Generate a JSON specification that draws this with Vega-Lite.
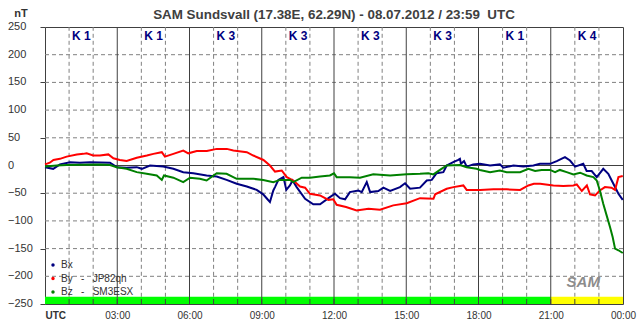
{
  "$schema": "https://vega.github.io/schema/vega-lite/v6.json",
  "width": 578,
  "height": 277,
  "autosize": {"type": "none"},
  "padding": {"left": 45, "top": 27, "right": 20, "bottom": 27},
  "background": "white",
  "title": {"text": "SAM Sundsvall (17.38E, 62.29N) - 08.07.2012 / 23:59\u00a0\u00a0UTC", "anchor": "middle", "frame": "group", "font": "Liberation Sans", "fontSize": 13.4, "fontWeight": "bold", "color": "#404040", "baseline": "alphabetic", "offset": -16, "dy": 8},
  "config": {
    "view": {"stroke": "#404040", "strokeWidth": 1},
    "font": "Liberation Sans",
    "axisY": {"labels": false, "tickSize": 5, "tickColor": "#404040", "domain": false, "grid": false, "title": null},
    "axisX": {"labelOverlap": false, "labelBound": false, "labelFlush": false, "labelPadding": 6, "labelFontSize": 10, "labelColor": "#333333", "ticks": false, "domain": false, "grid": false, "title": null}
  },
  "datasets": {
    "hours": [{"t":1},{"t":2},{"t":4},{"t":5},{"t":7},{"t":8},{"t":10},{"t":11},{"t":13},{"t":14},{"t":16},{"t":17},{"t":19},{"t":20},{"t":22},{"t":23}],
    "major": [{"t":3},{"t":6},{"t":9},{"t":12},{"t":15},{"t":18},{"t":21}],
    "ticks": [{"t":1},{"t":2},{"t":3},{"t":4},{"t":5},{"t":6},{"t":7},{"t":8},{"t":9},{"t":10},{"t":11},{"t":12},{"t":13},{"t":14},{"t":15},{"t":16},{"t":17},{"t":18},{"t":19},{"t":20},{"t":21},{"t":22},{"t":23}],
    "levels": [{"v":-200},{"v":-150},{"v":-100},{"v":-50},{"v":50},{"v":100},{"v":150},{"v":200}],
    "ylabels": [{"v":-250},{"v":-200},{"v":-150},{"v":-100},{"v":-50},{"v":0},{"v":50},{"v":100},{"v":150},{"v":200},{"v":250}],
    "kindex": [{"t":0,"t2":3,"k":"K 1","kv":1},{"t":3,"t2":6,"k":"K 1","kv":1},{"t":6,"t2":9,"k":"K 3","kv":3},{"t":9,"t2":12,"k":"K 3","kv":3},{"t":12,"t2":15,"k":"K 3","kv":3},{"t":15,"t2":18,"k":"K 3","kv":3},{"t":18,"t2":21,"k":"K 1","kv":1},{"t":21,"t2":24,"k":"K 4","kv":4}],
    "mag": [
      {"c":"Bx","t":0,"v":-3},{"c":"Bx","t":0.34,"v":-6},{"c":"Bx","t":0.62,"v":2},{"c":"Bx","t":1.04,"v":6},{"c":"Bx","t":1.45,"v":5},{"c":"Bx","t":1.87,"v":6},{"c":"Bx","t":2.7,"v":5},{"c":"Bx","t":2.98,"v":-3},{"c":"Bx","t":3.39,"v":-4},{"c":"Bx","t":3.81,"v":-3},{"c":"Bx","t":4.02,"v":-6},{"c":"Bx","t":4.36,"v":0},{"c":"Bx","t":4.91,"v":-2},{"c":"Bx","t":5.33,"v":-6},{"c":"Bx","t":5.74,"v":-12},{"c":"Bx","t":6.16,"v":-14},{"c":"Bx","t":6.71,"v":-18},{"c":"Bx","t":7.13,"v":-20},{"c":"Bx","t":7.54,"v":-26},{"c":"Bx","t":7.96,"v":-33},{"c":"Bx","t":8.38,"v":-38},{"c":"Bx","t":8.79,"v":-44},{"c":"Bx","t":9.06,"v":-52},{"c":"Bx","t":9.22,"v":-60},{"c":"Bx","t":9.34,"v":-66},{"c":"Bx","t":9.48,"v":-45},{"c":"Bx","t":9.55,"v":-39},{"c":"Bx","t":9.69,"v":-26},{"c":"Bx","t":9.9,"v":-21},{"c":"Bx","t":10.02,"v":-44},{"c":"Bx","t":10.17,"v":-36},{"c":"Bx","t":10.28,"v":-27},{"c":"Bx","t":10.45,"v":-39},{"c":"Bx","t":10.8,"v":-60},{"c":"Bx","t":11.14,"v":-70},{"c":"Bx","t":11.42,"v":-70},{"c":"Bx","t":11.83,"v":-57},{"c":"Bx","t":12.04,"v":-51},{"c":"Bx","t":12.25,"v":-59},{"c":"Bx","t":12.46,"v":-61},{"c":"Bx","t":12.66,"v":-48},{"c":"Bx","t":13.01,"v":-45},{"c":"Bx","t":13.15,"v":-48},{"c":"Bx","t":13.36,"v":-30},{"c":"Bx","t":13.5,"v":-48},{"c":"Bx","t":13.84,"v":-46},{"c":"Bx","t":14.05,"v":-40},{"c":"Bx","t":14.33,"v":-46},{"c":"Bx","t":14.74,"v":-39},{"c":"Bx","t":14.95,"v":-32},{"c":"Bx","t":15.16,"v":-42},{"c":"Bx","t":15.57,"v":-40},{"c":"Bx","t":15.85,"v":-27},{"c":"Bx","t":16.06,"v":-26},{"c":"Bx","t":16.26,"v":-14},{"c":"Bx","t":16.54,"v":-12},{"c":"Bx","t":16.68,"v":0},{"c":"Bx","t":16.95,"v":6},{"c":"Bx","t":17.16,"v":10},{"c":"Bx","t":17.23,"v":12},{"c":"Bx","t":17.27,"v":3},{"c":"Bx","t":17.4,"v":8},{"c":"Bx","t":17.51,"v":-2},{"c":"Bx","t":17.78,"v":2},{"c":"Bx","t":18.06,"v":3},{"c":"Bx","t":18.48,"v":0},{"c":"Bx","t":18.89,"v":2},{"c":"Bx","t":19.03,"v":-4},{"c":"Bx","t":19.45,"v":0},{"c":"Bx","t":19.86,"v":-2},{"c":"Bx","t":20.28,"v":0},{"c":"Bx","t":20.55,"v":3},{"c":"Bx","t":20.97,"v":3},{"c":"Bx","t":21.25,"v":8},{"c":"Bx","t":21.59,"v":15},{"c":"Bx","t":21.8,"v":9},{"c":"Bx","t":22.01,"v":-2},{"c":"Bx","t":22.35,"v":3},{"c":"Bx","t":22.49,"v":-10},{"c":"Bx","t":22.7,"v":-10},{"c":"Bx","t":22.91,"v":-21},{"c":"Bx","t":23.18,"v":-6},{"c":"Bx","t":23.39,"v":-15},{"c":"Bx","t":23.6,"v":-33},{"c":"Bx","t":23.81,"v":-51},{"c":"Bx","t":23.99,"v":-62},
      {"c":"By","t":0,"v":2},{"c":"By","t":0.2,"v":5},{"c":"By","t":0.35,"v":10},{"c":"By","t":0.62,"v":12},{"c":"By","t":0.9,"v":16},{"c":"By","t":1.32,"v":20},{"c":"By","t":1.59,"v":21},{"c":"By","t":1.73,"v":22},{"c":"By","t":2.0,"v":18},{"c":"By","t":2.28,"v":18},{"c":"By","t":2.63,"v":20},{"c":"By","t":2.84,"v":13},{"c":"By","t":3.11,"v":10},{"c":"By","t":3.39,"v":8},{"c":"By","t":3.81,"v":14},{"c":"By","t":4.23,"v":18},{"c":"By","t":4.5,"v":21},{"c":"By","t":4.85,"v":24},{"c":"By","t":4.98,"v":16},{"c":"By","t":5.33,"v":21},{"c":"By","t":5.74,"v":27},{"c":"By","t":5.95,"v":22},{"c":"By","t":6.3,"v":26},{"c":"By","t":6.72,"v":26},{"c":"By","t":7.13,"v":30},{"c":"By","t":7.55,"v":30},{"c":"By","t":7.82,"v":27},{"c":"By","t":8.38,"v":24},{"c":"By","t":8.65,"v":18},{"c":"By","t":9.07,"v":10},{"c":"By","t":9.34,"v":0},{"c":"By","t":9.55,"v":-11},{"c":"By","t":9.83,"v":-9},{"c":"By","t":10.04,"v":-21},{"c":"By","t":10.31,"v":-27},{"c":"By","t":10.59,"v":-38},{"c":"By","t":10.8,"v":-40},{"c":"By","t":11.0,"v":-51},{"c":"By","t":11.42,"v":-54},{"c":"By","t":11.77,"v":-62},{"c":"By","t":11.97,"v":-61},{"c":"By","t":12.11,"v":-71},{"c":"By","t":12.5,"v":-75},{"c":"By","t":12.94,"v":-81},{"c":"By","t":13.43,"v":-78},{"c":"By","t":13.91,"v":-80},{"c":"By","t":14.46,"v":-72},{"c":"By","t":15.02,"v":-68},{"c":"By","t":15.57,"v":-59},{"c":"By","t":16.13,"v":-60},{"c":"By","t":16.2,"v":-52},{"c":"By","t":16.68,"v":-42},{"c":"By","t":16.96,"v":-39},{"c":"By","t":17.37,"v":-36},{"c":"By","t":17.51,"v":-44},{"c":"By","t":18.07,"v":-44},{"c":"By","t":18.62,"v":-43},{"c":"By","t":19.17,"v":-43},{"c":"By","t":19.73,"v":-44},{"c":"By","t":20.07,"v":-36},{"c":"By","t":20.3,"v":-33},{"c":"By","t":20.56,"v":-33},{"c":"By","t":21.11,"v":-36},{"c":"By","t":21.52,"v":-37},{"c":"By","t":21.94,"v":-36},{"c":"By","t":22.08,"v":-34},{"c":"By","t":22.29,"v":-46},{"c":"By","t":22.5,"v":-36},{"c":"By","t":22.63,"v":-52},{"c":"By","t":22.84,"v":-54},{"c":"By","t":23.04,"v":-45},{"c":"By","t":23.25,"v":-39},{"c":"By","t":23.52,"v":-40},{"c":"By","t":23.67,"v":-44},{"c":"By","t":23.81,"v":-21},{"c":"By","t":23.99,"v":-19},
      {"c":"Bz","t":0,"v":-2},{"c":"Bz","t":0.49,"v":0},{"c":"Bz","t":0.9,"v":1},{"c":"Bz","t":2.28,"v":2},{"c":"Bz","t":2.7,"v":1},{"c":"Bz","t":2.98,"v":-3},{"c":"Bz","t":3.39,"v":-6},{"c":"Bz","t":3.81,"v":-12},{"c":"Bz","t":4.22,"v":-15},{"c":"Bz","t":4.64,"v":-18},{"c":"Bz","t":4.85,"v":-26},{"c":"Bz","t":4.94,"v":-18},{"c":"Bz","t":5.33,"v":-22},{"c":"Bz","t":5.74,"v":-30},{"c":"Bz","t":6.02,"v":-22},{"c":"Bz","t":6.43,"v":-24},{"c":"Bz","t":6.71,"v":-27},{"c":"Bz","t":7.13,"v":-14},{"c":"Bz","t":7.54,"v":-15},{"c":"Bz","t":7.96,"v":-24},{"c":"Bz","t":8.65,"v":-24},{"c":"Bz","t":9.06,"v":-26},{"c":"Bz","t":9.48,"v":-30},{"c":"Bz","t":9.76,"v":-26},{"c":"Bz","t":10.17,"v":-26},{"c":"Bz","t":10.31,"v":-30},{"c":"Bz","t":10.66,"v":-22},{"c":"Bz","t":11.0,"v":-22},{"c":"Bz","t":11.42,"v":-20},{"c":"Bz","t":11.83,"v":-18},{"c":"Bz","t":12.0,"v":-14},{"c":"Bz","t":12.11,"v":-21},{"c":"Bz","t":12.66,"v":-21},{"c":"Bz","t":13.08,"v":-22},{"c":"Bz","t":13.63,"v":-16},{"c":"Bz","t":14.33,"v":-18},{"c":"Bz","t":15.02,"v":-16},{"c":"Bz","t":15.57,"v":-15},{"c":"Bz","t":15.92,"v":-14},{"c":"Bz","t":16.13,"v":-16},{"c":"Bz","t":16.4,"v":-8},{"c":"Bz","t":16.68,"v":0},{"c":"Bz","t":17.23,"v":1},{"c":"Bz","t":17.51,"v":-3},{"c":"Bz","t":17.92,"v":-6},{"c":"Bz","t":18.06,"v":-8},{"c":"Bz","t":18.48,"v":-12},{"c":"Bz","t":18.89,"v":-9},{"c":"Bz","t":19.17,"v":-12},{"c":"Bz","t":19.73,"v":-12},{"c":"Bz","t":20.07,"v":-6},{"c":"Bz","t":20.35,"v":-10},{"c":"Bz","t":20.62,"v":-8},{"c":"Bz","t":20.97,"v":-8},{"c":"Bz","t":21.18,"v":-12},{"c":"Bz","t":21.38,"v":-8},{"c":"Bz","t":21.66,"v":-12},{"c":"Bz","t":21.94,"v":-16},{"c":"Bz","t":22.22,"v":-13},{"c":"Bz","t":22.49,"v":-18},{"c":"Bz","t":22.77,"v":-21},{"c":"Bz","t":22.91,"v":-27},{"c":"Bz","t":23.04,"v":-45},{"c":"Bz","t":23.18,"v":-69},{"c":"Bz","t":23.32,"v":-90},{"c":"Bz","t":23.46,"v":-111},{"c":"Bz","t":23.57,"v":-129},{"c":"Bz","t":23.67,"v":-150},{"c":"Bz","t":23.81,"v":-153},{"c":"Bz","t":23.99,"v":-158}
    ]
  },
  "layer": [
    {
      "data": {"name": "mag"},
      "mark": {"type": "line", "strokeWidth": 2, "interpolate": "linear", "opacity": 0},
      "encoding": {
        "x": {
          "field": "t", "type": "quantitative", "title": null,
          "scale": {"domain": [0, 24], "nice": false, "zero": false},
          "axis": {
            "title": null, "values": [0, 3, 6, 9, 12, 15, 18, 21, 24],
            "labelExpr": "datum.value == 0 ? 'UTC' : (datum.value == 24 ? '00:00' : (datum.value < 10 ? '0' : '') + datum.value + ':00')",
            "labelAlign": {"condition": {"test": "datum.value == 0", "value": "left"}, "value": "center"},
            "labelFontWeight": {"condition": {"test": "datum.value == 0", "value": "bold"}, "value": "normal"}
          }
        },
        "y": {
          "field": "v", "type": "quantitative", "title": null,
          "scale": {"domain": [-250, 250], "nice": false, "zero": false},
          "axis": {
            "title": null, "labels": false,
            "values": [-250, -200, -150, -100, -50, 0, 50, 100, 150, 200, 250]
          }
        },
        "detail": {"field": "c"}
      }
    },
    {
      "data": {"name": "hours"},
      "mark": {"type": "rule", "color": "#808080", "strokeDash": [4, 3], "strokeWidth": 1},
      "encoding": {
        "x": {"field": "t", "type": "quantitative", "title": null},
        "y": {"datum": -237, "type": "quantitative"},
        "y2": {"datum": 250}
      }
    },
    {
      "data": {"name": "levels"},
      "mark": {"type": "rule", "color": "#808080", "strokeDash": [4, 3], "strokeWidth": 1},
      "encoding": {
        "y": {"field": "v", "type": "quantitative", "title": null}
      }
    },
    {
      "data": {"name": "kindex"},
      "mark": {"type": "rect"},
      "encoding": {
        "x": {"field": "t", "type": "quantitative", "title": null},
        "x2": {"field": "t2"},
        "y": {"datum": -250, "type": "quantitative"},
        "y2": {"datum": -237},
        "color": {"condition": {"test": "datum.kv >= 4", "value": "#ffff00"}, "value": "#00ff00"}
      }
    },
    {
      "data": {"name": "major"},
      "mark": {"type": "rule", "color": "#404040", "strokeWidth": 1},
      "encoding": {
        "x": {"field": "t", "type": "quantitative", "title": null}
      }
    },
    {
      "data": {"name": "ticks"},
      "mark": {"type": "rule", "color": "#404040", "strokeWidth": 1},
      "encoding": {
        "x": {"field": "t", "type": "quantitative", "title": null},
        "y": {"datum": -250, "type": "quantitative"},
        "y2": {"datum": -241}
      }
    },
    {
      "data": {"values": [{"v": 0}]},
      "mark": {"type": "rule", "color": "#404040", "strokeWidth": 1},
      "encoding": {
        "y": {"field": "v", "type": "quantitative", "title": null}
      }
    },
    {
      "data": {"name": "ylabels"},
      "mark": {"type": "text", "align": "left", "baseline": "middle", "dx": -37, "font": "Liberation Sans", "fontSize": 11, "color": "#333333"},
      "encoding": {
        "x": {"datum": 0, "type": "quantitative"},
        "y": {"field": "v", "type": "quantitative", "title": null},
        "text": {"field": "v", "type": "quantitative"}
      }
    },
    {
      "data": {"name": "kindex"},
      "mark": {"type": "text", "align": "left", "baseline": "middle", "dx": 27, "font": "Liberation Sans", "fontSize": 12, "fontWeight": "bold", "color": "#000080"},
      "encoding": {
        "x": {"field": "t", "type": "quantitative", "title": null},
        "y": {"datum": 234, "type": "quantitative"},
        "text": {"field": "k"}
      }
    },
    {
      "data": {"name": "mag"},
      "mark": {"type": "line", "strokeWidth": 2, "interpolate": "linear"},
      "encoding": {
        "x": {"field": "t", "type": "quantitative", "title": null},
        "y": {"field": "v", "type": "quantitative", "title": null},
        "color": {
          "field": "c", "type": "nominal",
          "scale": {"domain": ["Bx", "By", "Bz"], "range": ["#000080", "#ff0000", "#008000"]},
          "legend": {
            "title": null, "orient": "none", "legendX": 3, "legendY": 233,
            "symbolType": "circle", "symbolSize": 12, "symbolStrokeWidth": 0,
            "labelFont": "Liberation Sans", "labelFontSize": 10, "labelColor": "#333333", "labelOffset": 3, "rowPadding": 3.5, "padding": 0,
            "labelExpr": "datum.label == 'By' ? 'By\u00a0\u00a0\u00a0-\u00a0\u00a0\u00a0JP82qh' : (datum.label == 'Bz' ? 'Bz\u00a0\u00a0\u00a0-\u00a0\u00a0\u00a0SM3ESX' : datum.label)",
            "encode": {"symbols": {"update": {"fill": {"scale": "color", "field": "value"}, "stroke": {"value": "transparent"}}}}
          }
        }
      }
    },
    {
      "data": {"values": [{"unit": "nT"}]},
      "mark": {"type": "text", "align": "center", "baseline": "middle", "dx": -24, "dy": -13, "font": "Liberation Sans", "fontSize": 11, "fontWeight": "bold", "color": "#333333"},
      "encoding": {
        "x": {"datum": 0, "type": "quantitative"},
        "y": {"datum": 250, "type": "quantitative"},
        "text": {"field": "unit"}
      }
    },
    {
      "data": {"values": [{"logo": "SAM"}]},
      "mark": {"type": "text", "align": "center", "baseline": "middle", "font": "Liberation Sans", "fontSize": 15, "fontWeight": "bold", "fontStyle": "italic", "color": "#8c8c8c"},
      "encoding": {
        "x": {"datum": 22.35, "type": "quantitative"},
        "y": {"datum": -210, "type": "quantitative"},
        "text": {"field": "logo"}
      }
    }
  ]
}
